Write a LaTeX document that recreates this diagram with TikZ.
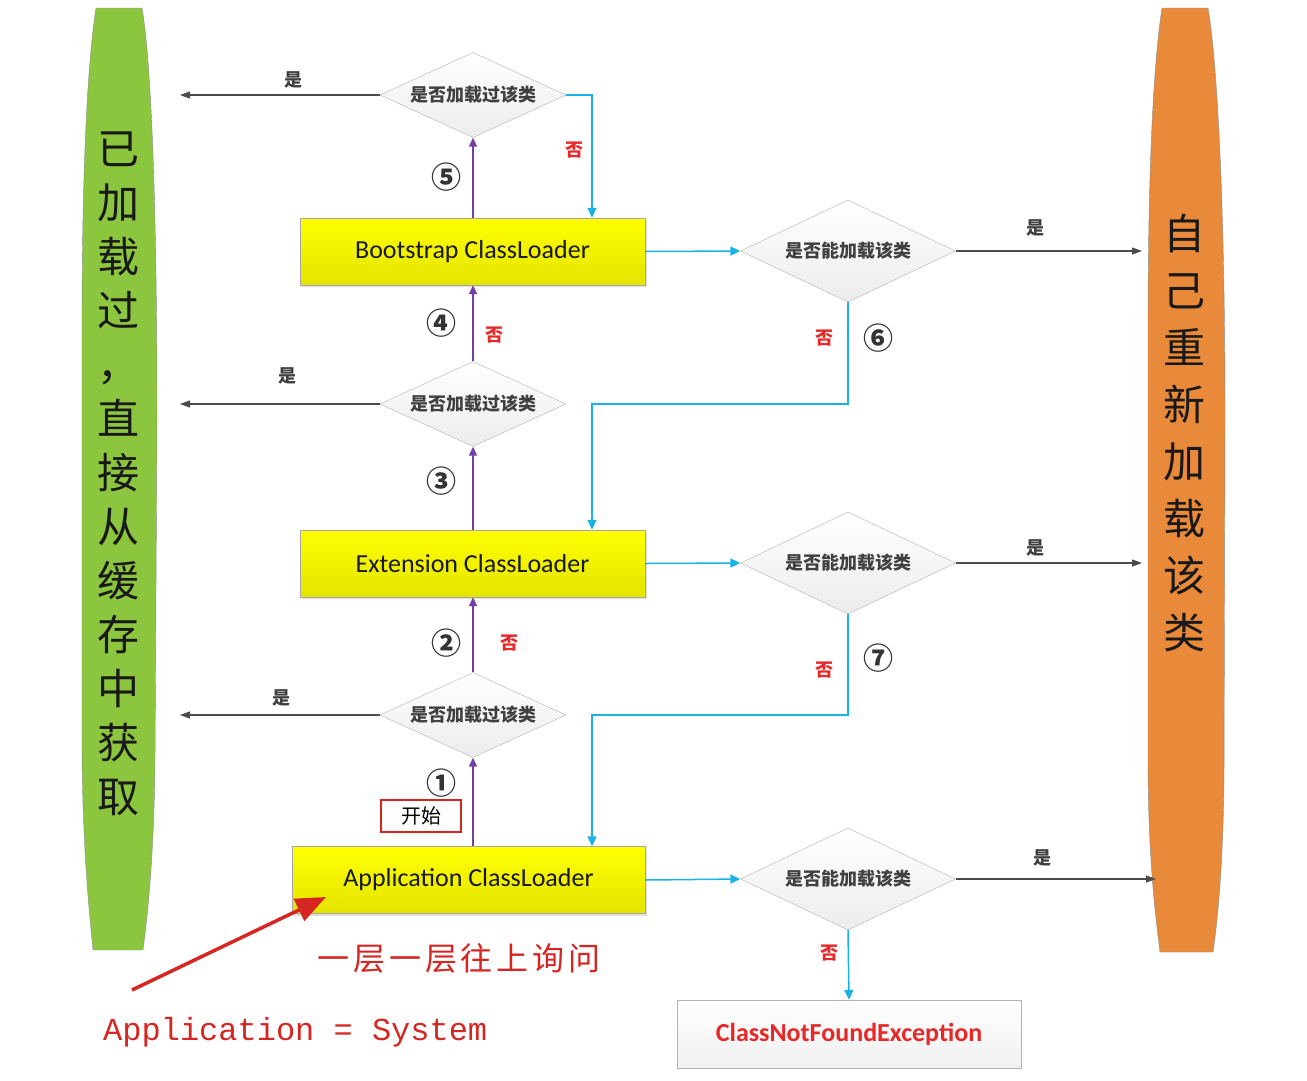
\documentclass[tikz,border=0pt]{standalone}
\usepackage{fontspec}
\setmainfont{Carlito}
\newfontfamily\cjk{Noto Sans CJK SC}
\newfontfamily\codefont{Liberation Mono}
\usetikzlibrary{shapes.geometric,arrows.meta,shadows}
\definecolor{cachegreen}{RGB}{140,198,63}
\definecolor{reloadorange}{RGB}{233,137,58}
\definecolor{loaderyellow}{RGB}{255,255,0}
\definecolor{loaderyellowdark}{RGB}{228,228,0}
\definecolor{askpurple}{RGB}{118,60,170}
\definecolor{flowcyan}{RGB}{25,178,232}
\definecolor{nored}{RGB}{232,40,40}
\definecolor{hintred}{RGB}{214,38,34}

\begin{document}
\begin{tikzpicture}[x=1pt,y=-1pt,
  loaderbox/.style={rectangle, draw=gray!70, top color=loaderyellow, bottom color=loaderyellowdark,
    minimum height=67pt, drop shadow={shadow xshift=2pt, shadow yshift=-2pt, opacity=.25},
    font=\fontsize{26}{26}\selectfont, text=black!90},
  loadedcheck/.style={diamond, aspect=2.2, draw=gray!60, top color=white, bottom color=gray!15,
    inner sep=0pt, minimum width=186pt, minimum height=85pt,
    font=\cjk\bfseries\fontsize{18}{18}\selectfont, text=black!75},
  cancheck/.style={loadedcheck, minimum width=215pt, minimum height=102pt},
  failbox/.style={rectangle, draw=gray!60, top color=white, bottom color=gray!12,
    minimum width=344pt, minimum height=68pt,
    font=\bfseries\fontsize{26}{26}\selectfont, text=nored},
  startbox/.style={rectangle, draw=hintred, line width=1.8pt, minimum width=80pt, minimum height=32pt,
    inner sep=0pt, font=\cjk\fontsize{20}{20}\selectfont},
  bartext/.style={align=center, inner sep=0pt, font=\cjk\fontsize{42}{54}\selectfont, text=black!90},
  askline/.style={draw=askpurple, line width=1.5pt, -{Triangle[length=9pt,width=8pt]}},
  noline/.style={draw=flowcyan, line width=1.5pt, -{Triangle[length=10pt,width=9pt]}},
  yesline/.style={draw=black!70, line width=1.2pt, -{Triangle[length=10pt,width=7pt]}},
  steplabel/.style={font=\cjk\bfseries\fontsize{30}{30}\selectfont, text=black!80},
  nolabel/.style={font=\cjk\bfseries\fontsize{18}{18}\selectfont, text=nored},
  yeslabel/.style={font=\cjk\bfseries\fontsize{18}{18}\selectfont, text=black!75},
  hinttext/.style={font=\cjk\fontsize{32}{32}\selectfont\addfontfeatures{LetterSpace=12}, text=hintred},
  codetext/.style={font=\codefont\fontsize{32}{32}\selectfont, text=hintred, inner sep=0pt}
]
\fill[white] (0,0) rectangle (1307,1080);
\useasboundingbox (0,0) rectangle (1307,1080);

% side bars
\filldraw[fill=cachegreen, draw=black!45, thin]
  (96,8) -- (142,8) .. controls (151,60) and (157,200) .. (157,420)
  -- (155,760) .. controls (154,860) and (147,920) .. (143,950)
  -- (93,950) .. controls (89,910) and (82,840) .. (82,740)
  -- (82,330) .. controls (82,160) and (88,60) .. (96,8) -- cycle;
\filldraw[fill=reloadorange, draw=black!45, thin]
  (1162,8) -- (1208,8) .. controls (1217,60) and (1225,200) .. (1225,420)
  -- (1224,780) .. controls (1223,870) and (1217,925) .. (1213,952)
  -- (1160,952) .. controls (1156,920) and (1148,860) .. (1148,760)
  -- (1148,330) .. controls (1148,160) and (1154,60) .. (1162,8) -- cycle;
\node (cachetext) [bartext] at (118,474) {已\\加\\载\\过\\，\\直\\接\\从\\缓\\存\\中\\获\\取};
\node (reloadtext) [bartext, font=\cjk\fontsize{42}{57}\selectfont] at (1184,433) {自\\己\\重\\新\\加\\载\\该\\类};

% loaders
\node (boot) [loaderbox, minimum width=345pt] at (472.5,251.5) {Bootstrap ClassLoader};
\node (ext) [loaderbox, minimum width=345pt] at (472.5,563.5) {Extension ClassLoader};
\node (app) [loaderbox, minimum width=353pt] at (468.5,880) {Application ClassLoader};

% checks
\node (loaded1) [loadedcheck] at (473,95) {是否加载过该类};
\node (loaded2) [loadedcheck] at (473,404) {是否加载过该类};
\node (loaded3) [loadedcheck] at (473,715) {是否加载过该类};
\node (can1) [cancheck] at (848,251) {是否能加载该类};
\node (can2) [cancheck] at (848,563) {是否能加载该类};
\node (can3) [cancheck] at (848,879) {是否能加载该类};
\node (notfound) [failbox] at (849,1034) {ClassNotFoundException};
\node (start) [startbox] at (421,816) {开始};

\coordinate (hit1) at (180,95);
\coordinate (hit2) at (180,404);
\coordinate (hit3) at (180,715);
\coordinate (self1) at (1142,251);
\coordinate (self2) at (1142,563);
\coordinate (self3) at (1156,879);
\coordinate (dropx) at (592,0);

% asking the parent
\draw[askline] (app.north -| loaded3) -- (loaded3.south);
\draw[askline] (loaded3.north) -- (ext.south -| loaded3);
\draw[askline] (ext.north -| loaded2) -- (loaded2.south);
\draw[askline] (loaded2.north) -- (boot.south -| loaded2);
\draw[askline] (boot.north -| loaded1) -- (loaded1.south);

% already loaded
\draw[yesline] (loaded1.west) -- (hit1);
\draw[yesline] (loaded2.west) -- (hit2);
\draw[yesline] (loaded3.west) -- (hit3);

% try to load it
\draw[noline] (loaded1.east) -| (dropx |- boot.north);
\draw[noline] (boot.east) -- (can1.west);
\draw[noline] (can1.south) -- (can1.south |- loaded2) -| (dropx |- ext.north);
\draw[noline] (ext.east) -- (can2.west);
\draw[noline] (can2.south) -- (can2.south |- loaded3) -| (dropx |- app.north);
\draw[noline] (app.east) -- (can3.west);
\draw[noline] (can3.south) -- (notfound.north);
\draw[yesline] (can1.east) -- (self1);
\draw[yesline] (can2.east) -- (self2);
\draw[yesline] (can3.east) -- (self3);

% labels
\node[steplabel] at (441,783) {①};
\node[steplabel] at (446,643) {②};
\node[steplabel] at (441,481) {③};
\node[steplabel] at (441,323) {④};
\node[steplabel] at (446,177) {⑤};
\node[steplabel] at (878,338) {⑥};
\node[steplabel] at (878,658) {⑦};
\node[nolabel] at (574,150) {否};
\node[nolabel] at (494,335) {否};
\node[nolabel] at (509,643) {否};
\node[nolabel] at (824,338) {否};
\node[nolabel] at (824,670) {否};
\node[nolabel] at (829,953) {否};
\node[yeslabel] at (293,80) {是};
\node[yeslabel] at (287,376) {是};
\node[yeslabel] at (281,698) {是};
\node[yeslabel] at (1035,228) {是};
\node[yeslabel] at (1035,548) {是};
\node[yeslabel] at (1042,858) {是};

% note
\coordinate (hinttail) at (132,990);
\coordinate (hinttip) at (326,897);
\draw[hintred, line width=3.5pt, -{Triangle[length=30pt,width=24pt]}] (hinttail) -- (hinttip);
\node (hintask) [hinttext] at (459,958) {一层一层往上询问};
\node (hintsame) [codetext, anchor=base west] at (103,1040) {Application = System};
\end{tikzpicture}
\end{document}
